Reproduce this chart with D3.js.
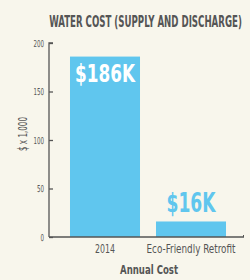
<!DOCTYPE html>
<html><head><meta charset="utf-8">
<script src="https://cdn.jsdelivr.net/npm/d3@7"></script>
<style>
html,body{margin:0;padding:0;background:#f8f6ec;}
text{font-family:"DejaVu Sans Condensed","Liberation Sans Narrow","Roboto",sans-serif;}
</style></head>
<body><svg id="c" width="250" height="280"></svg>
<script>
const categories = ["2014", "Eco-Friendly Retrofit"];
const values = [186, 16];
const valueLabels = ["$186K", "$16K"];
const yTicks = [0, 50, 100, 150, 200];
const title = "WATER COST (SUPPLY AND DISCHARGE)";
const xTitle = "Annual Cost";
const yTitle = "$ x 1,000";

const svg = d3.select("#c");
const grey = "#555555", blue = "#60c6ee";
const y = d3.scaleLinear().domain([0, 200]).range([237, 43]);
const x = d3.scaleBand().domain(categories).range([62, 234]).paddingInner(0.186).paddingOuter(0.093);

// helper: place a text at (cx, cy) squeezed horizontally to width w
function fit(sel, cx, cy, w, anchor, rot) {
  sel.each(function () {
    const n = this.getComputedTextLength();
    const s = w / n;
    d3.select(this).attr("text-anchor", anchor)
      .attr("transform", `translate(${cx},${cy})${rot ? " rotate(" + rot + ")" : ""} scale(${s},1)`);
  });
}

fit(svg.append("text").attr("font-size", 15.5).attr("font-weight", "bold").attr("fill", grey).text(title),
  145.5, 27, 193, "middle");

// bars
svg.selectAll("rect.bar").data(values).join("rect")
  .attr("x", (d, i) => x(categories[i])).attr("width", x.bandwidth())
  .attr("y", d => y(d)).attr("height", d => y(0) - y(d)).attr("fill", blue);

// y axis
const ya = svg.append("g").attr("transform", "translate(49,0)")
  .call(d3.axisRight(y).tickValues(yTicks).tickSize(4).tickFormat(""));
ya.select(".domain").attr("stroke", grey).attr("stroke-width", 1.3).attr("d", "M4,43H0V237");
ya.selectAll(".tick line").attr("stroke", grey).attr("stroke-width", 1.3);
svg.selectAll("text.yt").data(yTicks).join("text").attr("class", "yt")
  .attr("font-size", 9.5).attr("fill", grey).text(d => d)
  .each(function (d) { fit(d3.select(this), 44, y(d) + 3.5, String(d).length * 3.5, "end"); });

// x axis line
svg.append("line").attr("x1", 49).attr("x2", 244).attr("y1", y(0)).attr("y2", y(0))
  .attr("stroke", grey).attr("stroke-width", 1.3);
svg.append("line").attr("x1", 243.5).attr("x2", 243.5).attr("y1", y(0)).attr("y2", y(0) - 2)
  .attr("stroke", grey).attr("stroke-width", 1);

// category labels
const catW = [20, 89];
svg.selectAll("text.cat").data(categories).join("text").attr("class", "cat")
  .attr("font-size", 12).attr("fill", grey).text(d => d)
  .each(function (d, i) { fit(d3.select(this), x(d) + x.bandwidth() / 2, 253, catW[i], "middle"); });

// value labels
const valW = [60, 49];
svg.selectAll("text.val").data(values).join("text").attr("class", "val")
  .attr("font-size", (d, i) => i === 0 ? 24 : 26).attr("font-weight", "bold")
  .attr("fill", (d, i) => i === 0 ? "#ffffff" : blue)
  .text((d, i) => valueLabels[i])
  .each(function (d, i) {
    fit(d3.select(this), x(categories[i]) + x.bandwidth() / 2, i === 0 ? y(d) + 25 : y(d) - 9, valW[i], "middle");
  });

fit(svg.append("text").attr("font-size", 12.5).attr("font-weight", "bold").attr("fill", grey).text(xTitle),
  149, 274, 58, "middle");
fit(svg.append("text").attr("font-size", 12.5).attr("fill", grey).text(yTitle),
  27, 134, 34, "middle", -90);
</script></body></html>
